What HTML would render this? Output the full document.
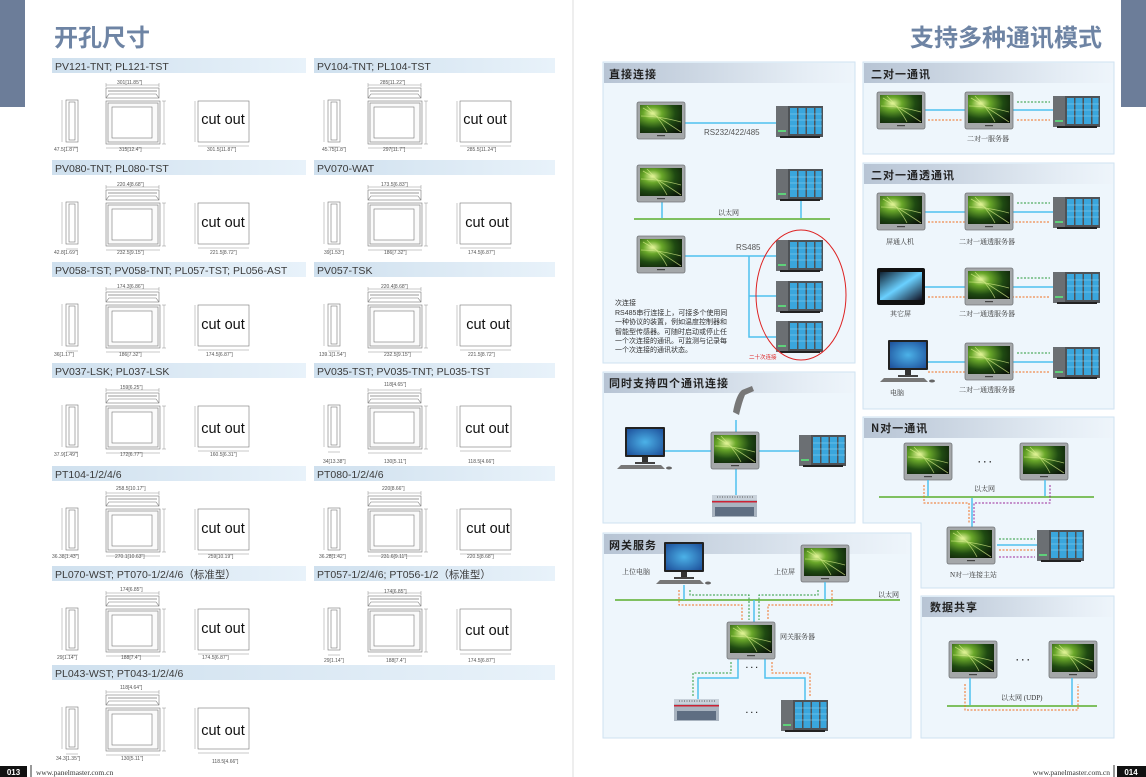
<!DOCTYPE html>
<html><head><meta charset="utf-8"><style>
html,body{margin:0;padding:0;background:#fff;width:1146px;height:777px;overflow:hidden}
svg{display:block}
text{font-family:"Liberation Sans","Noto Sans CJK SC",sans-serif}
.s{font-family:"Liberation Serif","Noto Serif CJK SC",serif}
.h{font-size:10.5px;fill:#3a3a3a}
.d{font-size:5px;fill:#555}
.c{font-size:14.5px;fill:#111;text-anchor:middle}
.pt{font-size:11px;font-weight:bold;fill:#222;font-family:"Noto Sans CJK SC",sans-serif;letter-spacing:1px}
.lb{font-size:7px;fill:#333}
</style></head><body>
<svg width="1146" height="777" viewBox="0 0 1146 777" xmlns="http://www.w3.org/2000/svg">
<defs>
<linearGradient id="hb" x1="0" x2="1"><stop offset="0" stop-color="#cfe0ee"/><stop offset="1" stop-color="#e8f2fa"/></linearGradient>
<linearGradient id="pb" x1="0" x2="1"><stop offset="0" stop-color="#b7c4d4"/><stop offset="0.8" stop-color="#e5edf5"/><stop offset="1" stop-color="#eef5fb"/></linearGradient>
<radialGradient id="scr" cx="0.3" cy="0.3" r="0.9"><stop offset="0" stop-color="#e8f7a0"/><stop offset="0.25" stop-color="#6aa82a"/><stop offset="0.6" stop-color="#1f4a12"/><stop offset="1" stop-color="#0b1408"/></radialGradient>
<radialGradient id="pcs" cx="0.5" cy="0.5" r="0.7"><stop offset="0" stop-color="#4cb2e8"/><stop offset="1" stop-color="#1d4f9a"/></radialGradient>
<linearGradient id="tab" x1="0" x2="1" y1="0" y2="1"><stop offset="0" stop-color="#123"/><stop offset="0.5" stop-color="#6ad0ff"/><stop offset="1" stop-color="#112"/></linearGradient>
<g id="hmi"><rect x="0" y="0" width="48" height="37" rx="2" fill="#a4a7a9" stroke="#74777a" stroke-width="0.8"/><rect x="3" y="3" width="42" height="28" fill="url(#scr)"/><path d="M6 6 Q20 14 44 30 M10 4 Q24 18 30 30 M4 14 Q22 14 44 20" stroke="#d8f08a" stroke-width="0.8" fill="none" opacity="0.7"/><rect x="20" y="33" width="8" height="1.2" fill="#444"/></g>
<g id="plc"><rect x="0" y="0" width="47" height="31" fill="#4e5256"/><rect x="0" y="0" width="12" height="31" fill="#6b6f73"/><rect x="2" y="24" width="8" height="2" fill="#5fd07a"/><rect x="14" y="2" width="7" height="26" fill="#3aa6dc"/><rect x="22.5" y="2" width="7" height="26" fill="#3aa6dc"/><rect x="31" y="2" width="7" height="26" fill="#3aa6dc"/><rect x="39.5" y="2" width="6" height="26" fill="#3aa6dc"/><path d="M14 8h32M14 14h32M14 20h32" stroke="#8fd4f2" stroke-width="0.6"/><rect x="4" y="30" width="40" height="2" fill="#222"/></g>
<g id="pc"><rect x="8" y="0" width="40" height="30" rx="1" fill="#222"/><rect x="10" y="2" width="36" height="26" fill="url(#pcs)"/><rect x="25" y="30" width="6" height="6" fill="#333"/><rect x="18" y="35" width="20" height="2" fill="#444"/><path d="M0 42 L4 38 L44 38 L48 42 Z" fill="#777"/><ellipse cx="52" cy="41" rx="3" ry="1.5" fill="#666"/></g>
<g id="splc"><rect x="0" y="2" width="45" height="22" fill="#a9b4c0"/><rect x="0" y="2" width="45" height="5" fill="#c9d2db"/><rect x="0" y="8" width="45" height="1.5" fill="#c23"/><rect x="3" y="14" width="39" height="9" fill="#5f6e82"/><path d="M5 4h36" stroke="#555" stroke-dasharray="1 1.5"/></g>
<g id="dwg" fill="none" stroke="#777" stroke-width="0.6">
<path d="M54 27h53M54 25v4M107 25v4" stroke-width="0.4"/>
<rect x="54" y="30" width="53" height="10" fill="#fff"/><rect x="56" y="32" width="49" height="2" fill="#ccc" stroke="none"/><path d="M54 40 l3 -4 h47 l3 4"/>
<rect x="54" y="43" width="54" height="43" fill="#fafafa"/><rect x="56" y="45" width="50" height="39"/><rect x="60" y="49" width="40" height="31" fill="#fff"/>
<path d="M112 43v43M110 43h4M110 86h4" stroke-width="0.4"/>
<rect x="14" y="42" width="12" height="42" fill="#fff"/><rect x="17" y="44" width="6" height="38"/>
<path d="M10 42v42" stroke-width="0.4"/>
<path d="M54 90h54M14 89h12" stroke-width="0.4"/>
<rect x="146" y="43" width="51" height="41" fill="#fff"/><path d="M143 43v41M146 88h51" stroke-width="0.4"/>
</g>
</defs>

<rect x="0" y="0" width="25" height="107" fill="#6c7d99"/>
<rect x="1121" y="0" width="25" height="107" fill="#6c7d99"/>
<line x1="573" y1="0" x2="573" y2="777" stroke="#ddd"/>
<text x="54" y="46" font-size="24" font-weight="bold" fill="#6e84a4" font-family="Noto Sans CJK SC,sans-serif">开孔尺寸</text>
<text x="1102" y="46" font-size="24" font-weight="bold" fill="#6e84a4" text-anchor="end" font-family="Noto Sans CJK SC,sans-serif">支持多种通讯模式</text>

<g>
<rect x="52" y="58" width="254" height="15" fill="url(#hb)"/><rect x="314" y="58" width="241" height="15" fill="url(#hb)"/>
<text class="h" x="55" y="70">PV121-TNT; PL121-TST</text><text class="h" x="317" y="70">PV104-TNT; PL104-TST</text>
<use href="#dwg" x="52" y="58"/><use href="#dwg" x="314" y="58"/>
<text class="c" x="223" y="124">cut out</text><text class="c" x="485" y="124">cut out</text>
<text class="d" x="117" y="84">301[11.85"]</text><text class="d" x="54" y="151">47.5[1.87"]</text><text class="d" x="119" y="151">315[12.4"]</text><text class="d" x="207" y="151">301.5[11.87"]</text>
<text class="d" x="380" y="84">285[11.22"]</text><text class="d" x="322" y="151">45.75[1.8"]</text><text class="d" x="383" y="151">297[11.7"]</text><text class="d" x="467" y="151">285.5[11.24"]</text>

<rect x="52" y="160" width="254" height="15" fill="url(#hb)"/><rect x="314" y="160" width="241" height="15" fill="url(#hb)"/>
<text class="h" x="55" y="172">PV080-TNT; PL080-TST</text><text class="h" x="317" y="172">PV070-WAT</text>
<use href="#dwg" x="52" y="160"/><use href="#dwg" x="314" y="160"/>
<text class="c" x="223" y="227">cut out</text><text class="c" x="487" y="227">cut out</text>
<text class="d" x="117" y="186">220.4[8.68"]</text><text class="d" x="54" y="254">42.8[1.69"]</text><text class="d" x="117" y="254">232.5[9.15"]</text><text class="d" x="210" y="254">221.5[8.72"]</text>
<text class="d" x="381" y="186">173.5[6.83"]</text><text class="d" x="324" y="254">39[1.53"]</text><text class="d" x="384" y="254">186[7.32"]</text><text class="d" x="468" y="254">174.5[6.87"]</text>

<rect x="52" y="262" width="254" height="15" fill="url(#hb)"/><rect x="314" y="262" width="241" height="15" fill="url(#hb)"/>
<text class="h" x="55" y="274">PV058-TST; PV058-TNT; PL057-TST; PL056-AST</text><text class="h" x="317" y="274">PV057-TSK</text>
<use href="#dwg" x="52" y="262"/><use href="#dwg" x="314" y="262"/>
<text class="c" x="223" y="329">cut out</text><text class="c" x="488" y="329">cut out</text>
<text class="d" x="117" y="288">174.3[6.86"]</text><text class="d" x="54" y="356">36[1.17"]</text><text class="d" x="119" y="356">186[7.32"]</text><text class="d" x="206" y="356">174.5[6.87"]</text>
<text class="d" x="381" y="288">220.4[8.68"]</text><text class="d" x="319" y="356">139.1[1.54"]</text><text class="d" x="384" y="356">232.5[9.15"]</text><text class="d" x="468" y="356">221.5[8.72"]</text>

<rect x="52" y="363" width="254" height="15" fill="url(#hb)"/><rect x="314" y="363" width="241" height="15" fill="url(#hb)"/>
<text class="h" x="55" y="375">PV037-LSK; PL037-LSK</text><text class="h" x="317" y="375">PV035-TST; PV035-TNT; PL035-TST</text>
<use href="#dwg" x="52" y="363"/><use href="#dwg" x="314" y="363"/>
<text class="c" x="223" y="433">cut out</text><text class="c" x="487" y="433">cut out</text>
<text class="d" x="120" y="389">159[6.25"]</text><text class="d" x="54" y="456">37.9[1.49"]</text><text class="d" x="120" y="456">172[6.77"]</text><text class="d" x="210" y="456">160.5[6.31"]</text>
<text class="d" x="384" y="386">118[4.65"]</text><text class="d" x="323" y="463">34[13.38"]</text><text class="d" x="384" y="463">130[5.11"]</text><text class="d" x="468" y="463">118.5[4.66"]</text>

<rect x="52" y="466" width="254" height="15" fill="url(#hb)"/><rect x="314" y="466" width="241" height="15" fill="url(#hb)"/>
<text class="h" x="55" y="478">PT104-1/2/4/6</text><text class="h" x="317" y="478">PT080-1/2/4/6</text>
<use href="#dwg" x="52" y="466"/><use href="#dwg" x="314" y="466"/>
<text class="c" x="223" y="533">cut out</text><text class="c" x="488" y="533">cut out</text>
<text class="d" x="116" y="490">258.5[10.17"]</text><text class="d" x="52" y="558">36.38[1.43"]</text><text class="d" x="115" y="558">270.1[10.63"]</text><text class="d" x="208" y="558">259[10.19"]</text>
<text class="d" x="382" y="490">220[8.66"]</text><text class="d" x="319" y="558">36.28[1.42"]</text><text class="d" x="381" y="558">231.6[9.11"]</text><text class="d" x="467" y="558">220.5[8.68"]</text>

<rect x="52" y="566" width="254" height="15" fill="url(#hb)"/><rect x="314" y="566" width="241" height="15" fill="url(#hb)"/>
<text class="h" x="55" y="578">PL070-WST; PT070-1/2/4/6（标准型）</text><text class="h" x="317" y="578">PT057-1/2/4/6; PT056-1/2（标准型）</text>
<use href="#dwg" x="52" y="566"/><use href="#dwg" x="314" y="566"/>
<text class="c" x="223" y="633">cut out</text><text class="c" x="487" y="635">cut out</text>
<text class="d" x="120" y="591">174[6.85"]</text><text class="d" x="57" y="659">29[1.14"]</text><text class="d" x="121" y="659">188[7.4"]</text><text class="d" x="202" y="659">174.5[6.87"]</text>
<text class="d" x="384" y="593">174[6.85"]</text><text class="d" x="324" y="662">29[1.14"]</text><text class="d" x="386" y="662">188[7.4"]</text><text class="d" x="468" y="662">174.5[6.87"]</text>

<rect x="52" y="665" width="503" height="15" fill="url(#hb)"/>
<text class="h" x="55" y="677">PL043-WST; PT043-1/2/4/6</text>
<use href="#dwg" x="52" y="665"/>
<text class="c" x="223" y="735">cut out</text>
<text class="d" x="120" y="689">118[4.64"]</text><text class="d" x="56" y="760">34.3[1.35"]</text><text class="d" x="121" y="760">130[5.11"]</text><text class="d" x="212" y="763">118.5[4.66"]</text>
</g>

<rect x="0" y="766" width="27" height="11" fill="#111"/><text x="13.5" y="775" font-size="8" font-weight="bold" fill="#fff" text-anchor="middle">013</text>
<line x1="31" y1="765" x2="31" y2="777" stroke="#333"/>
<text class="s" x="36" y="775" font-size="7.5" fill="#333">www.panelmaster.com.cn</text>
<text class="s" x="1110" y="775" font-size="7.5" fill="#333" text-anchor="end">www.panelmaster.com.cn</text>
<line x1="1114" y1="765" x2="1114" y2="777" stroke="#333"/>
<rect x="1117" y="766" width="29" height="11" fill="#111"/><text x="1131" y="775" font-size="8" font-weight="bold" fill="#fff" text-anchor="middle">014</text>

<g stroke="#cfe2f1" stroke-width="1" fill="#eef6fc">
<rect x="603" y="62" width="252" height="301"/>
<rect x="863" y="62" width="251" height="92"/>
<rect x="863" y="163" width="251" height="246"/>
<rect x="603" y="372" width="252" height="151"/>
<path d="M863 417H1114V588H921V523H863Z"/>
<rect x="603" y="533" width="308" height="205"/>
<rect x="921" y="596" width="193" height="142"/>
</g>
<g fill="url(#pb)">
<rect x="604" y="63" width="250" height="20"/><rect x="864" y="63" width="249" height="20"/><rect x="864" y="164" width="249" height="20"/>
<rect x="604" y="373" width="250" height="20"/><rect x="864" y="418" width="249" height="20"/><rect x="604" y="534" width="306" height="20"/><rect x="922" y="597" width="191" height="20"/>
</g>
<text class="pt" x="609" y="78">直接连接</text>
<text class="pt" x="871" y="78">二对一通讯</text>
<text class="pt" x="871" y="179">二对一通透通讯</text>
<text class="pt" x="609" y="387">同时支持四个通讯连接</text>
<text class="pt" x="871" y="432">N对一通讯</text>
<text class="pt" x="609" y="549">网关服务</text>
<text class="pt" x="930" y="611">数据共享</text>

<g stroke="#4fc0ee" stroke-width="1.5" fill="none">
<path d="M685 123H776"/><path d="M662 201V219M801 199V219"/>
<path d="M685 256H776M749 256V337H776M749 296H776"/>
</g>
<line x1="634" y1="219" x2="830" y2="219" stroke="#7fc060" stroke-width="2"/>
<use href="#hmi" x="637" y="102"/><use href="#plc" x="776" y="106"/>
<use href="#hmi" x="637" y="165"/><use href="#plc" x="776" y="169"/>
<use href="#hmi" x="637" y="236"/><use href="#plc" x="776" y="240"/><use href="#plc" x="776" y="281"/><use href="#plc" x="776" y="321"/>
<ellipse cx="801" cy="295" rx="45" ry="65" fill="none" stroke="#d22" stroke-width="1"/>
<text x="704" y="135" font-size="8" fill="#555">RS232/422/485</text>
<text class="s" x="718" y="215" font-size="7" fill="#333">以太网</text>
<text x="736" y="250" font-size="8" fill="#555">RS485</text>
<text x="749" y="359" font-size="5.5" fill="#d22">二十次连接</text>
<g class="lb" font-size="6.5">
<text x="615" y="305">次连接</text>
<text x="615" y="315">RS485串行连接上，可接多个使用同</text>
<text x="615" y="324">一种协议的装置，例如温度控制器和</text>
<text x="615" y="334">智能型传感器。可随时启动或停止任</text>
<text x="615" y="343">一个次连接的通讯。可监测与记录每</text>
<text x="615" y="352">一个次连接的通讯状态。</text>
</g>

<g stroke="#4fc0ee" stroke-width="1.5"><path d="M925 110H965M1013 110H1053"/></g>
<g stroke-width="1" stroke-dasharray="2 1.5" fill="none">
<path d="M928 120H962M1017 120H1050" stroke="#f07020"/><path d="M1017 102H1050" stroke="#2a9a3a"/>
</g>
<use href="#hmi" x="877" y="92"/><use href="#hmi" x="965" y="92"/><use href="#plc" x="1053" y="96"/>
<text class="s lb" x="967" y="141">二对一服务器</text>

<g stroke="#4fc0ee" stroke-width="1.5"><path d="M925 212H965M1013 212H1053M925 287H965M1013 287H1053M925 362H965M1013 362H1053"/></g>
<g stroke-width="1" stroke-dasharray="2 1.5" fill="none">
<path d="M928 222H1050M928 297H1050M928 372H1050" stroke="#f07020"/><path d="M1017 203H1050M1017 278H1050M1017 353H1050" stroke="#2a9a3a"/>
</g>
<use href="#hmi" x="877" y="193"/><use href="#hmi" x="965" y="193"/><use href="#plc" x="1053" y="197"/>
<rect x="877" y="268" width="48" height="37" rx="2" fill="#111"/><rect x="880" y="272" width="42" height="28" fill="url(#tab)"/>
<use href="#hmi" x="965" y="268"/><use href="#plc" x="1053" y="272"/>
<use href="#pc" x="880" y="340"/><use href="#hmi" x="965" y="343"/><use href="#plc" x="1053" y="347"/>
<text class="s lb" x="886" y="244">屏通人机</text><text class="s lb" x="959" y="244">二对一通透服务器</text>
<text class="s lb" x="890" y="316">其它屏</text><text class="s lb" x="959" y="316">二对一通透服务器</text>
<text class="s lb" x="890" y="395">电脑</text><text class="s lb" x="959" y="392">二对一通透服务器</text>

<g stroke="#4fc0ee" stroke-width="1.5"><path d="M660 451H711M759 451H799M736 420V432M736 468V495"/></g>
<use href="#pc" x="617" y="427"/><use href="#hmi" x="711" y="432"/><use href="#plc" x="799" y="435"/><use href="#splc" x="712" y="493"/>
<path d="M733 412 Q736 395 742 390 L752 386 L754 391 L745 395 Q742 402 739 415 Z" fill="#777"/>

<use href="#hmi" x="904" y="443"/><use href="#hmi" x="1020" y="443"/>
<text x="985" y="465" font-size="9" font-weight="bold" fill="#222" text-anchor="middle">· · ·</text>
<text class="s lb" x="974" y="491">以太网</text>
<g stroke="#4fc0ee" stroke-width="1.5"><path d="M928 480V497M1045 480V497M972 497V527M997 545H1037"/></g>
<line x1="879" y1="497" x2="1094" y2="497" stroke="#7fc060" stroke-width="2"/>
<g stroke-width="1" stroke-dasharray="2 1.5" fill="none">
<path d="M924 485V503H969V524" stroke="#f07020"/><path d="M1050 485V503H974V524" stroke="#9a2a9a"/>
<path d="M999 539H1035" stroke="#2a9a3a"/><path d="M999 550H1035" stroke="#f07020"/><path d="M999 557H1035" stroke="#9a2a9a"/>
</g>
<use href="#hmi" x="947" y="527"/><use href="#plc" x="1037" y="530"/>
<text class="s lb" x="950" y="577">N对一连接主站</text>

<use href="#pc" x="656" y="542"/><use href="#hmi" x="801" y="545"/>
<text class="s lb" x="622" y="574">上位电脑</text><text class="s lb" x="774" y="574">上位屏</text>
<text class="s lb" x="878" y="597">以太网</text>
<line x1="615" y1="600" x2="900" y2="600" stroke="#7fc060" stroke-width="2"/>
<g stroke="#4fc0ee" stroke-width="1.5" fill="none"><path d="M684 585V600M825 582V600M754 600V622M738 659V678H698V699M765 659V678H805V700"/></g>
<g stroke-width="1" stroke-dasharray="2 1.5" fill="none">
<path d="M679 590V605H742V620M832 590V605H768V620" stroke="#f07020"/>
<path d="M690 590V595H749V620M818 590V595H759V620" stroke="#2a9a3a"/>
<path d="M731 662V673H693V697" stroke="#2a9a3a"/><path d="M772 662V673H810V697" stroke="#f07020"/>
</g>
<use href="#hmi" x="727" y="622"/>
<text class="s lb" x="780" y="639">网关服务器</text>
<text x="752" y="670" font-size="8" font-weight="bold" fill="#222" text-anchor="middle">· · ·</text>
<text x="752" y="715" font-size="8" font-weight="bold" fill="#222" text-anchor="middle">· · ·</text>
<use href="#splc" x="674" y="697"/><use href="#plc" x="781" y="700"/>

<use href="#hmi" x="949" y="641"/><use href="#hmi" x="1049" y="641"/>
<text x="1023" y="663" font-size="9" font-weight="bold" fill="#222" text-anchor="middle">· · ·</text>
<g stroke="#4fc0ee" stroke-width="1.5"><path d="M970 678V706M1072 678V706"/></g>
<line x1="947" y1="706" x2="1097" y2="706" stroke="#7fc060" stroke-width="2"/>
<path d="M965 684V710H1078V684" stroke="#f07020" stroke-width="1" stroke-dasharray="2 1.5" fill="none"/>
<text class="s lb" x="1001" y="700">以太网 (UDP)</text>
</svg>
</body></html>
